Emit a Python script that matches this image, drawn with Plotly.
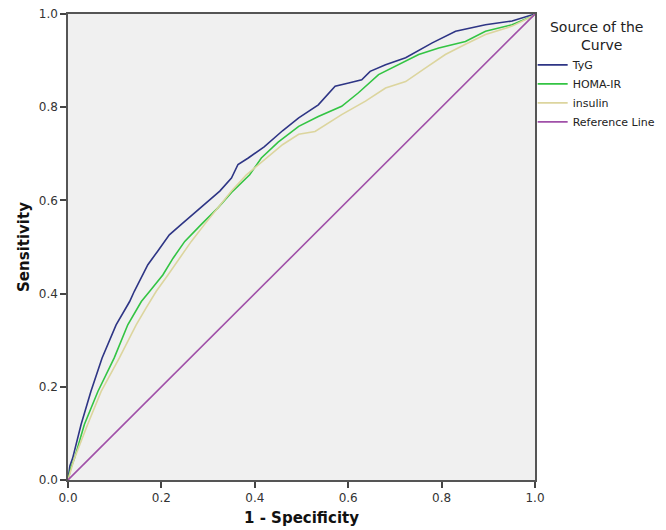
import plotly.graph_objects as go

# ROC curve points (1 - specificity, sensitivity)
tyg_x = [0.0, 0.004, 0.010, 0.028, 0.049, 0.073, 0.103, 0.132, 0.142, 0.171, 0.192, 0.217,
         0.242, 0.275, 0.307, 0.325, 0.350, 0.364, 0.386, 0.420, 0.460, 0.494, 0.536, 0.572,
         0.601, 0.629, 0.647, 0.680, 0.723, 0.780, 0.830, 0.894, 0.951, 0.994, 1.0]
tyg_y = [0.0, 0.030, 0.047, 0.119, 0.190, 0.262, 0.333, 0.383, 0.405, 0.462, 0.491, 0.526,
         0.548, 0.577, 0.605, 0.620, 0.648, 0.677, 0.691, 0.715, 0.750, 0.777, 0.805, 0.845,
         0.852, 0.859, 0.877, 0.891, 0.906, 0.938, 0.963, 0.977, 0.985, 0.998, 1.0]

homa_x = [0.0, 0.006, 0.014, 0.035, 0.064, 0.099, 0.128, 0.157, 0.175, 0.203, 0.225, 0.250,
          0.285, 0.321, 0.353, 0.389, 0.414, 0.450, 0.494, 0.536, 0.586, 0.622, 0.665, 0.708,
          0.751, 0.794, 0.851, 0.894, 0.951, 0.994, 1.0]
homa_y = [0.0, 0.025, 0.047, 0.119, 0.190, 0.262, 0.333, 0.383, 0.405, 0.440, 0.476, 0.512,
          0.548, 0.584, 0.620, 0.655, 0.691, 0.725, 0.759, 0.780, 0.802, 0.831, 0.870, 0.891,
          0.913, 0.927, 0.941, 0.963, 0.977, 0.995, 1.0]

ins_x = [0.0, 0.006, 0.014, 0.042, 0.071, 0.110, 0.146, 0.167, 0.189, 0.214, 0.239, 0.264,
         0.292, 0.321, 0.350, 0.382, 0.425, 0.460, 0.494, 0.529, 0.586, 0.637, 0.680, 0.723,
         0.765, 0.808, 0.851, 0.894, 0.951, 0.994, 1.0]
ins_y = [0.0, 0.020, 0.047, 0.119, 0.190, 0.262, 0.333, 0.369, 0.405, 0.440, 0.476, 0.512,
         0.548, 0.584, 0.620, 0.655, 0.691, 0.720, 0.742, 0.748, 0.784, 0.813, 0.841, 0.855,
         0.884, 0.913, 0.935, 0.956, 0.974, 0.995, 1.0]

ref_x = [0.0, 1.0]
ref_y = [0.0, 1.0]

tick_vals = [0.0, 0.2, 0.4, 0.6, 0.8, 1.0]

FONT = "DejaVu Sans"

fig = go.Figure()
fig.add_trace(go.Scatter(x=tyg_x, y=tyg_y, mode="lines", name="TyG",
                         line=dict(color="#2E3585", width=1.6)))
fig.add_trace(go.Scatter(x=homa_x, y=homa_y, mode="lines", name="HOMA-IR",
                         line=dict(color="#33C443", width=1.6)))
fig.add_trace(go.Scatter(x=ins_x, y=ins_y, mode="lines", name="insulin",
                         line=dict(color="#DCD59E", width=1.6)))
fig.add_trace(go.Scatter(x=ref_x, y=ref_y, mode="lines", name="Reference Line",
                         line=dict(color="#A050A8", width=1.6)))

axis_common = dict(
    range=[0, 1], tickvals=tick_vals, tickformat=".1f",
    showgrid=False, zeroline=False, automargin=False,
    ticklabeloverflow="allow",
    showline=True, linecolor="#555555", linewidth=1.5, mirror=True,
    ticks="outside", ticklen=6, tickwidth=1.5, tickcolor="#444444",
    tickfont=dict(family=FONT, size=12, color="#333333"),
)

fig.update_layout(
    width=666, height=530,
    margin=dict(l=60, r=139, t=6, b=58, autoexpand=False),
    paper_bgcolor="white",
    plot_bgcolor="#F0F0F0",
    font=dict(family=FONT, color="#222222"),
    xaxis=dict(axis_common, title=dict(text="<b>1 - Specificity</b>",
                                      font=dict(family=FONT, size=15, color="#111111"),
                                      standoff=8)),
    yaxis=dict(axis_common, title=dict(text="<b>Sensitivity</b>",
                                      font=dict(family=FONT, size=15, color="#111111"),
                                      standoff=6)),
    legend=dict(
        # spaces push "Curve" to sit centred under the first line, as in SPSS
        title=dict(text="Source of the<br>" + "&nbsp;" * 7 + "Curve", side="top center",
                   font=dict(family=FONT, size=14, color="#222222")),
        font=dict(family=FONT, size=11, color="#222222"),
        x=0.995, xanchor="left", y=1.0, yanchor="top",
        bgcolor="rgba(0,0,0,0)", tracegroupgap=0, itemwidth=30,
    ),
    showlegend=True,
)

fig.write_html("out.html")
